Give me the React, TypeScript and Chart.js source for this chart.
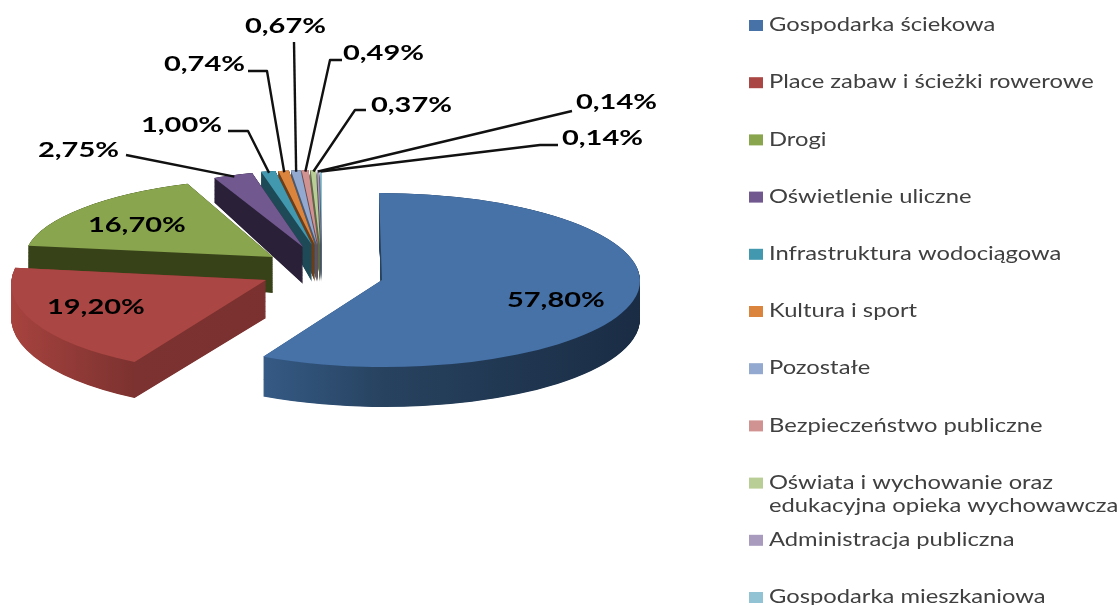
import React, { useEffect, useRef } from "react";
import { Chart, registerables } from "chart.js";

Chart.register(...registerables);

// ---- data ----
const categories = [
  "Gospodarka ściekowa",
  "Place zabaw i ścieżki rowerowe",
  "Drogi",
  "Oświetlenie uliczne",
  "Infrastruktura wodociągowa",
  "Kultura i sport",
  "Pozostałe",
  "Bezpieczeństwo publiczne",
  "Oświata i wychowanie oraz\nedukacyjna opieka wychowawcza",
  "Administracja publiczna",
  "Gospodarka mieszkaniowa",
];
const shares = [57.8, 19.2, 16.7, 2.75, 1.0, 0.74, 0.67, 0.49, 0.37, 0.14, 0.14];

// ---- styles and layout ----
const W = 1119;
const H = 605;
const R = 100;
const colors = ["#4672a8", "#aa4643", "#89a54e", "#71588f", "#4198af", "#db843d", "#93a9cf", "#d19392", "#b9cd96", "#a99bbd", "#91c3d5"];
// side-wall colour stops along the slice's local x axis (0 = left rim, 1 = right rim)
const sideStops: [number, string][][] = [
  [[0, "#3a618f"], [0.265, "#355a85"], [0.5, "#27425f"], [1, "#1a2c44"]],
  [[0, "#a8433f"], [0.265, "#7c3230"], [1, "#772e2c"]],
  [[0, "#384219"], [1, "#384219"]],
  [[0, "#2a2038"], [1, "#2a2038"]],
  [[0, "#1e4a58"], [1, "#1e4a58"]],
  [[0, "#6b3d18"], [1, "#6b3d18"]],
  [[0, "#4a5a72"], [1, "#4a5a72"]],
  [[0, "#6e4a4a"], [1, "#6e4a4a"]],
  [[0, "#5c6848"], [1, "#5c6848"]],
  [[0, "#544d60"], [1, "#544d60"]],
  [[0, "#4b6a78"], [1, "#4b6a78"]],
];
// Projection of each exploded slice's unit disc on screen: apex, linear map,
// wall height at the apex and its change across the disc.
type Frame = { x: number; y: number; a: number; b: number; c: number; d: number; t: number; ta: number; tb: number };
const thin = { a: 230, b: 0, c: 0, d: 75, t: 37, ta: 10, tb: 14 };
const frames: Frame[] = [
  { x: 382, y: 280, a: 258, b: 3, c: 0, d: 87, t: 38, ta: 0, tb: 2 },
  { x: 266, y: 280, a: 254.5, b: -13.2, c: 0.6, d: 93.2, t: 38, ta: 4, tb: 0 },
  { x: 273, y: 257, a: 248, b: -11, c: 1.4, d: 78.7, t: 36, ta: 10, tb: 14 },
  { x: 303, y: 247, a: 230, b: 0, c: -5, d: 77, t: 37, ta: 8, tb: 10 },
  { x: 312, y: 245, ...thin },
  { x: 315, y: 245, ...thin },
  { x: 317, y: 245, ...thin },
  { x: 318, y: 245, ...thin },
  { x: 320, y: 245, ...thin },
  { x: 321, y: 245, ...thin },
  { x: 322, y: 245, ...thin },
];
// back-to-front paint order
const paintOrder = [10, 9, 8, 7, 6, 5, 4, 3, 2, 1, 0];

const LABEL_FONT = "bold 21px Lato";
const LABEL_SX = 1.38;
const LEGEND_FONT = "19px Lato";
const LEGEND_SX = 1.25;
// label left edge / vertical centre, with leader start and elbow (if any)
type Lab = { x: number; y: number; leader?: [number, number][] };
const labelLayout: Lab[] = [
  { x: 507, y: 300 },
  { x: 47, y: 307 },
  { x: 88, y: 225 },
  { x: 38, y: 150, leader: [[126, 155]] },
  { x: 141, y: 125, leader: [[228, 131], [248, 131]] },
  { x: 164, y: 64, leader: [[248, 71], [267, 71]] },
  { x: 245, y: 26, leader: [[294, 42]] },
  { x: 343, y: 53, leader: [[342, 60], [330, 60]] },
  { x: 371, y: 105, leader: [[366, 110], [355, 110]] },
  { x: 576, y: 102, leader: [[572, 111]] },
  { x: 562, y: 138, leader: [[558, 145], [540, 145]] },
];
const LEGEND_X = 749;
const LEGEND_TEXT_X = 769;
const LEGEND_TOP = 25;
const LEGEND_STEP = 57.2;

const fmt = (v: number) => v.toFixed(2).replace(".", ",") + "%";

const pie3d = {
  id: "pie3d",
  beforeDatasetsDraw(chart: any) {
    const ctx: CanvasRenderingContext2D = chart.ctx;
    const arcs = chart.getDatasetMeta(0).data;
    for (const i of paintOrder) {
      const arc = arcs[i];
      const f = frames[i];
      const base = arc.options;
      const grad = ctx.createLinearGradient(arc.x - R, 0, arc.x + R, 0);
      sideStops[i].forEach(([p, c]) => grad.addColorStop(p, c));
      const paint = (k: number, fill: any) => {
        ctx.save();
        ctx.translate(f.x, f.y + k * f.t);
        ctx.transform(f.a / R, (f.c + k * f.ta) / R, f.b / R, (f.d + k * f.tb) / R, 0, 0);
        ctx.translate(-arc.x, -arc.y);
        arc.options = { ...base, backgroundColor: fill, borderWidth: 0 };
        arc.draw(ctx);
        ctx.restore();
      };
      for (let k = 1; k > 0; k -= 0.0125) paint(k, grad);
      paint(0, colors[i]);
      arc.options = base;
    }
    return false;
  },
  afterDraw(chart: any) {
    const ctx: CanvasRenderingContext2D = chart.ctx;
    const arcs = chart.getDatasetMeta(0).data;
    ctx.save();
    // leaders
    ctx.strokeStyle = "#111";
    ctx.lineWidth = 2.4;
    ctx.lineJoin = "round";
    labelLayout.forEach((l, i) => {
      if (!l.leader) return;
      const arc = arcs[i];
      const mid = (arc.startAngle + arc.endAngle) / 2;
      const u = Math.cos(mid) * 0.98;
      const v = Math.sin(mid) * 0.98;
      const f = frames[i];
      ctx.beginPath();
      l.leader.forEach(([x, y], n) => (n ? ctx.lineTo(x, y) : ctx.moveTo(x, y)));
      ctx.lineTo(f.x + f.a * u + f.b * v, f.y + f.c * u + f.d * v);
      ctx.stroke();
    });
    // value labels
    ctx.textBaseline = "middle";
    ctx.textAlign = "left";
    ctx.fillStyle = "#000";
    ctx.font = LABEL_FONT;
    shares.forEach((s, i) => {
      const l = labelLayout[i];
      ctx.save();
      ctx.translate(l.x, l.y);
      ctx.scale(LABEL_SX, 1);
      ctx.fillText(fmt(s), 0, 0);
      ctx.restore();
    });
    // legend
    ctx.font = LEGEND_FONT;
    categories.forEach((name, i) => {
      const y = LEGEND_TOP + i * LEGEND_STEP;
      ctx.fillStyle = colors[i];
      ctx.fillRect(LEGEND_X, y - 5, 14, 11);
      ctx.fillStyle = "#404040";
      name.split("\n").forEach((line, n) => {
        ctx.save();
        ctx.translate(LEGEND_TEXT_X, y + n * 23);
        ctx.scale(LEGEND_SX, 1);
        ctx.fillText(line, 0, 0);
        ctx.restore();
      });
    });
    ctx.restore();
  },
};

export default function App() {
  const ref = useRef<HTMLCanvasElement>(null);
  useEffect(() => {
    document.body.style.margin = "0";
    document.body.style.background = "#fff";
    const chart = new Chart(ref.current!, {
      type: "pie",
      data: {
        labels: categories,
        datasets: [{ data: shares, backgroundColor: colors, borderWidth: 0, radius: R } as any],
      },
      options: {
        responsive: false,
        animation: false,
        events: [],
        layout: { padding: { left: 222, right: W - 422, top: 162, bottom: H - 362 } },
        plugins: { legend: { display: false }, tooltip: { enabled: false }, title: { display: false } },
      },
      plugins: [pie3d as any],
    });
    return () => chart.destroy();
  }, []);
  return <canvas ref={ref} width={W} height={H} style={{ display: "block", filter: "blur(0.45px)" }} />;
}
